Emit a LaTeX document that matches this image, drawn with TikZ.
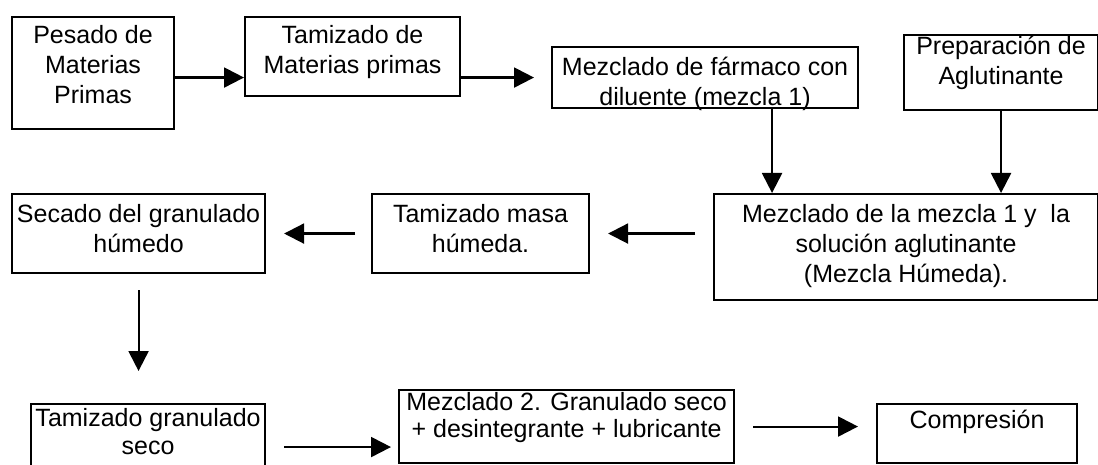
\documentclass[tikz,border=0pt]{standalone}
\usepackage{fontspec}
\setmainfont{Liberation Sans}
\usetikzlibrary{arrows.meta}

\tikzset{
	caja/.style={draw, line width=2.1pt, anchor=north west, inner sep=0pt},
	texto/.style={anchor=north, align=center, inner sep=0pt, yshift=-9pt, font=\fontsize{25}{30}\selectfont},
	flecha/.style={line width=2.1pt, -{Triangle[length=20pt,width=20pt]}}
}

\begin{document}
\begin{tikzpicture}[x=1pt,y=-1pt]
	\useasboundingbox (0,0) rectangle (1098,465);
	\clip (0,0) rectangle (1098,465);
	% draw first row
	\node[caja, minimum width=162pt, minimum height=112pt, label={[texto]north:Pesado de\\Materias\\Primas}] (pesado) at (11,16) {};
	\node[caja, minimum width=215pt, minimum height=79pt, label={[texto]north:Tamizado de\\Materias primas}] (tamizado) at (244,16) {};
	\node[caja, minimum width=306pt, minimum height=61pt, label={[texto, yshift=-2pt]north:Mezclado de fármaco con\\diluente (mezcla 1)}] (mezclado1) at (551,46) {};
	\node[caja, minimum width=194pt, minimum height=75pt, label={[texto, yshift=7pt]north:Preparación de\\Aglutinante}] (aglut) at (903,34) {};
	% draw second row
	\node[caja, minimum width=384pt, minimum height=106pt, label={[texto, yshift=-2pt]north:Mezclado de la mezcla 1 y~ la\\solución aglutinante\\(Mezcla Húmeda).}] (mezclah) at (713,193) {};
	\node[caja, minimum width=217pt, minimum height=79pt, label={[texto, yshift=-2pt]north:Tamizado masa\\húmeda.}] (tammasa) at (371,193) {};
	\node[caja, minimum width=253pt, minimum height=79pt, label={[texto, yshift=-2pt]north:Secado del granulado\\húmedo}] (secado) at (11,193) {};
	% draw third row
	\node[caja, minimum width=234pt, minimum height=86pt, label={[texto, yshift=4pt, font=\fontsize{25}{28}\selectfont]north:Tamizado granulado\\seco}] (tamgran) at (30,403) {};
	\node[caja, minimum width=335pt, minimum height=73pt, label={[texto, yshift=6pt, font=\fontsize{25}{27}\selectfont]north:Mezclado 2. Granulado seco\\+ desintegrante + lubricante}] (mezcla2) at (398,389) {};
	\node[caja, minimum width=200pt, minimum height=59pt, label={[texto, yshift=2pt]north:Compresión}] (compresion) at (876,403) {};
	% draw arrows of the first row
	\draw[flecha] (pesado.east |- mezclado1.west) -- (tamizado.west |- mezclado1.west);
	\draw[flecha, shorten >=17pt] (tamizado.east |- mezclado1.west) -- (mezclado1.west);
	\draw[flecha] ([xshift=67pt]mezclado1.south) -- ([xshift=67pt]mezclado1.south |- mezclah.north);
	\draw[flecha] (aglut.south) -- (aglut.south |- mezclah.north);
	% draw arrows of the second row
	\draw[flecha, shorten <=18pt, shorten >=18pt] (mezclah.west |- tammasa.east) -- (tammasa.east);
	\draw[flecha, shorten <=16pt, shorten >=18pt] (tammasa.west) -- (secado.east);
	\draw[flecha, shorten <=16pt, shorten >=32pt] (secado.south) -- (secado.south |- tamgran.north);
	% draw arrows of the third row
	\draw[flecha, shorten <=18pt, shorten >=7pt] (tamgran.east) -- (tamgran.east -| mezcla2.west);
	\draw[flecha, shorten <=18pt, shorten >=18pt] (mezcla2.east) -- (mezcla2.east -| compresion.west);
\end{tikzpicture}
\end{document}
